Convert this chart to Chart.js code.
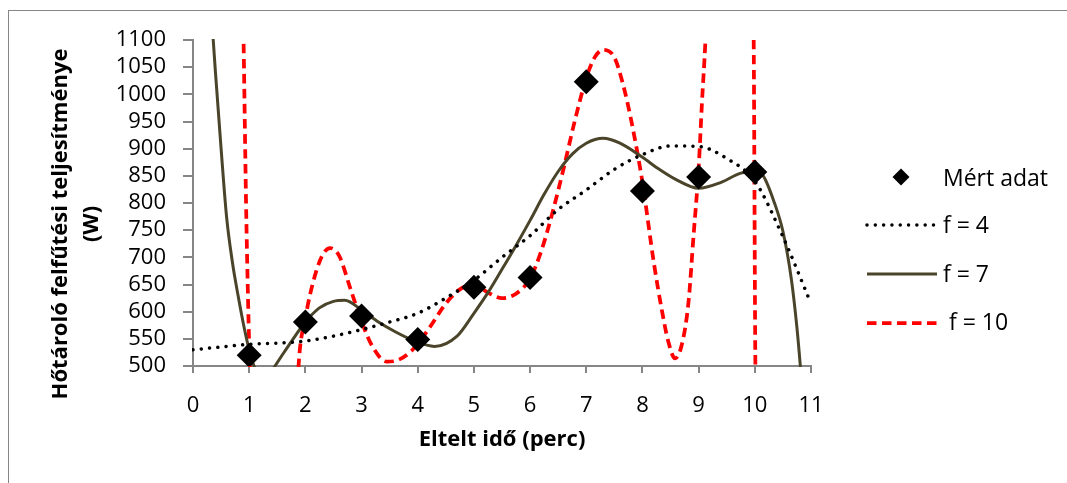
<!DOCTYPE html>
<html>
<head>
<meta charset="utf-8">
<script src="https://cdn.jsdelivr.net/npm/chart.js@4/dist/chart.umd.min.js"></script>
<style>
html,body{margin:0;padding:0;background:#fff;overflow:hidden}
#wrap{position:relative;width:1067px;height:483px}
#frame{position:absolute;left:8px;top:10px;width:1200px;height:600px;border:1px solid #868686;box-sizing:border-box}
canvas{position:absolute;left:0;top:0}
</style>
</head>
<body>
<div id="wrap"><div id="frame"></div><canvas id="c" width="1067" height="483"></canvas></div>
<script>
// ---- data ----
const xTickLabels = ['0','1','2','3','4','5','6','7','8','9','10','11'];
const yTickLabels = ['500','550','600','650','700','750','800','850','900','950','1000','1050','1100'];

const measX = [1, 2, 3, 4, 5, 6, 7, 8, 9, 10];
const measY = [520, 581, 592, 549, 645, 663, 1023, 822, 848, 857];

const f4X = [0, 0.5, 1, 1.5, 2, 2.5, 3, 3.5, 4, 4.5, 5, 5.5, 6, 6.5, 7, 7.5, 8, 8.5, 9, 9.5, 10, 10.5, 11];
const f4Y = [530, 535, 540, 542, 546, 555, 567, 581, 597, 625, 658, 700, 740, 788, 824, 862, 889, 905, 904, 882, 840, 738, 615];

const f7X = [0.3, 0.36, 0.4, 0.5, 0.6, 0.7, 0.8, 0.9, 1.0, 1.1, 1.2, 1.3, 1.46, 1.6, 1.75, 2.0, 2.25, 2.5, 2.7, 3.0, 3.3, 3.6, 3.9, 4.3, 4.7, 5.0, 5.25, 5.5, 5.75, 6.0, 6.25, 6.5, 6.75, 7.0, 7.3, 7.6, 8.0, 8.3, 8.6, 9.0, 9.4, 9.75, 10.0, 10.15, 10.35, 10.5, 10.65, 10.75, 10.81, 10.9];
const f7Y = [1200, 1100, 1040, 900, 772, 692, 631, 576, 530, 496, 478, 474, 500, 522, 545, 581, 607, 619, 621, 603, 581, 563, 548, 536, 555, 597, 635, 678, 722, 768, 816, 858, 890, 910, 919, 910, 884, 862, 843, 827, 838, 855, 858, 850, 800, 748, 660, 570, 500, 380];

const f10X = [0.8, 0.9, 0.944, 0.98, 1.0, 1.05, 1.2, 1.5, 1.75, 1.85, 1.88, 2.0, 2.14, 2.3, 2.44, 2.6, 2.8, 3.0, 3.2, 3.45, 3.65, 3.9, 4.2, 4.5, 4.75, 5.0, 5.25, 5.5, 5.75, 6.0, 6.2, 6.4, 6.6, 6.8, 7.0, 7.15, 7.3, 7.5, 7.65, 7.8, 8.0, 8.2, 8.35, 8.46, 8.58, 8.7, 8.82, 8.91, 9.0, 9.06, 9.12, 9.2, 9.4, 9.6, 9.8, 9.95, 9.98, 10.01, 10.05, 10.2];
const f10Y = [1700, 1100, 802, 621, 540, 380, 150, 100, 250, 430, 502, 588, 655, 703, 717, 703, 643, 582, 535, 508, 511, 529, 569, 615, 641, 650, 635, 625, 633, 661, 712, 783, 865, 953, 1030, 1068, 1082, 1068, 1020, 952, 838, 692, 600, 545, 514, 539, 618, 741, 864, 986, 1097, 1300, 1700, 1900, 1700, 1250, 1100, 500, 350, 100];

const seriesLabels = ['Mért adat', 'f = 4', 'f = 7', ' f = 10'];
const yTitleLines = ['Hőtároló felfűtési teljesítménye', '(W)'];
const xTitle = 'Eltelt idő (perc)';

// ---- chart ----
const FONT = "'Open Sans', 'Noto Sans', sans-serif";
const AXIS = '#868686';
const pts = (xs, ys) => xs.map((x, i) => ({x: x, y: ys[i]}));

const lineBase = {showLine: true, pointRadius: 0, pointHoverRadius: 0, fill: false,
  cubicInterpolationMode: 'monotone', clip: 1};

const textPlugin = {
  id: 'texts',
  afterDraw(chart) {
    const ctx = chart.ctx;
    const ds = chart.data.datasets;
    ctx.save();
    ctx.fillStyle = '#000';
    // y axis title (two rotated lines)
    ctx.font = "bold 22px " + FONT;
    ctx.textAlign = 'center';
    ctx.textBaseline = 'alphabetic';
    const yc = 224;
    const bases = [67, 98];
    yTitleLines.forEach((t, i) => {
      ctx.save();
      ctx.translate(bases[i], yc);
      ctx.rotate(-Math.PI / 2);
      ctx.fillText(t, 0, 0);
      ctx.restore();
    });
    // x axis title
    ctx.fillText(xTitle, 502, 446);

    // legend
    const lx0 = 867, lx1 = 937, tx = 943;
    const rows = [177, 225, 274, 323];
    const baseRows = [186, 233, 282, 330];
    ctx.font = "23px " + FONT;
    ctx.textAlign = 'left';
    ds.forEach((d, i) => {
      const y = rows[i];
      if (i === 0) {
        const cx = 901, r = 8.5;
        ctx.beginPath();
        ctx.moveTo(cx - r, y); ctx.lineTo(cx, y - r); ctx.lineTo(cx + r, y); ctx.lineTo(cx, y + r);
        ctx.closePath();
        ctx.fillStyle = d.backgroundColor;
        ctx.fill();
      } else {
        ctx.beginPath();
        ctx.strokeStyle = d.borderColor;
        ctx.lineWidth = d.borderWidth;
        ctx.lineCap = d.borderCapStyle || 'butt';
        ctx.setLineDash(d.borderDash || []);
        ctx.moveTo(lx0, y); ctx.lineTo(lx1, y);
        ctx.stroke();
        ctx.setLineDash([]);
      }
      ctx.fillStyle = '#000';
      ctx.fillText(d.label, tx, baseRows[i]);
    });
    ctx.restore();
  }
};

new Chart(document.getElementById('c'), {
  type: 'scatter',
  data: {
    datasets: [
      {label: seriesLabels[0], data: pts(measX, measY), pointStyle: 'rectRot', pointRadius: 12.5,
       pointHoverRadius: 12.5, backgroundColor: '#000', borderColor: '#000', borderWidth: 0, clip: 0},
      Object.assign({}, lineBase, {label: seriesLabels[1], data: pts(f4X, f4Y), borderColor: '#000',
       borderWidth: 3.5, borderDash: [0.01, 8.3], borderCapStyle: 'round'}),
      Object.assign({}, lineBase, {label: seriesLabels[2], data: pts(f7X, f7Y), borderColor: '#4A452A',
       borderWidth: 3, borderCapStyle: 'butt'}),
      Object.assign({}, lineBase, {label: seriesLabels[3], data: pts(f10X, f10Y), borderColor: '#FF0000',
       borderWidth: 3.75, borderDash: [9.5, 5.5], borderCapStyle: 'butt'})
    ]
  },
  options: {
    responsive: false,
    animation: false,
    devicePixelRatio: 1,
    events: [],
    layout: {padding: {top: 40, right: 256, bottom: 0, left: 0}},
    plugins: {legend: {display: false}, tooltip: {enabled: false}, title: {display: false}},
    scales: {
      x: {
        type: 'linear', min: 0, max: 11,
        ticks: {stepSize: 1, color: '#000', font: {family: FONT, size: 22}, padding: 20,
          maxRotation: 0, autoSkip: false,
          callback: (v) => xTickLabels[Math.round(v)]},
        grid: {drawOnChartArea: false, drawTicks: true, tickLength: 7, color: AXIS, lineWidth: 2},
        border: {color: AXIS, width: 2},
        afterFit(s) { s.height = 117; }
      },
      y: {
        type: 'linear', min: 500, max: 1100,
        ticks: {stepSize: 50, color: '#000', font: {family: FONT, size: 22}, padding: 17,
          autoSkip: false,
          callback: (v) => yTickLabels[Math.round((v - 500) / 50)]},
        grid: {drawOnChartArea: false, drawTicks: true, tickLength: 10, color: AXIS, lineWidth: 2},
        border: {color: AXIS, width: 2},
        afterFit(s) { s.width = 193; }
      }
    }
  },
  plugins: [textPlugin]
});
</script>
</body>
</html>
